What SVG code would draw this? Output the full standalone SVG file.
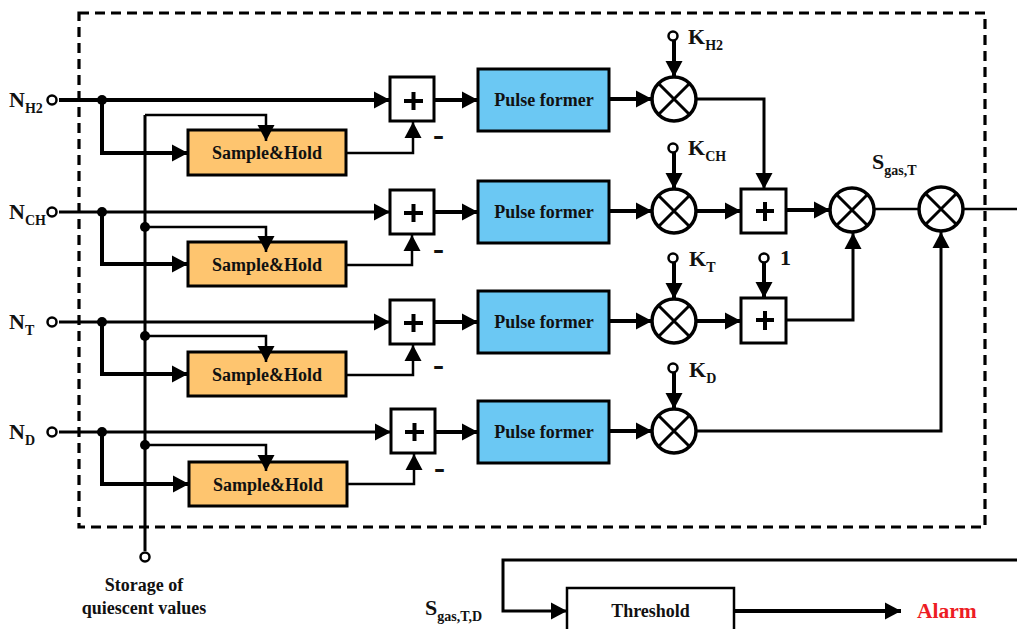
<svg xmlns="http://www.w3.org/2000/svg" width="1017" height="629" viewBox="0 0 1017 629">
<style>
text{font-family:"Liberation Serif","Times New Roman",serif;font-weight:700;fill:#111}
.lb{font-size:22px}
.sb{font-size:14px}
.bx{font-size:18px;text-anchor:middle}
.mn{font-size:33px}
.sum{fill:#fff;stroke:#000;stroke-width:3}
.sh{fill:#fec56f;stroke:#000;stroke-width:3}
.pf{fill:#6bc8f3;stroke:#000;stroke-width:3}
.mul{fill:#fff;stroke:#000;stroke-width:3.5}
.x{stroke:#000;stroke-width:3;fill:none}
.t{fill:none;stroke:#000;stroke-width:4}
.m{fill:none;stroke:#000;stroke-width:3}
.n{fill:none;stroke:#000;stroke-width:2.5}
.o{fill:#fff;stroke:#000;stroke-width:2.5}
.plus{stroke:#000;stroke-width:4;fill:none}
.ah{fill:#000;stroke:none}
</style>
<defs>
<marker id="arr" markerUnits="userSpaceOnUse" markerWidth="18" markerHeight="18" refX="16" refY="9" orient="auto"><path class="ah" d="M0,0.5L16,9L0,17.5Z"/></marker>
<g id="crs"><path class="x" d="M-16,-16L16,16M-16,16L16,-16"/></g>
</defs>
<rect x="79" y="13" width="906" height="514" fill="none" stroke="#000" stroke-width="3.2" stroke-dasharray="10 6"/>
<g id="sum1"><rect class="sum" x="390" y="77" width="44" height="44"/><path class="plus" d="M404,101H423M413.5,92V110"/></g>
<g id="sum2"><rect class="sum" x="390" y="190" width="44" height="44"/><path class="plus" d="M404,213H423M413.5,204V222"/></g>
<g id="sum3"><rect class="sum" x="390" y="300" width="44" height="44"/><path class="plus" d="M404,323H423M413.5,314V332"/></g>
<g id="sum4"><rect class="sum" x="391" y="409" width="44" height="44"/><path class="plus" d="M405,432H424M414.5,423V441"/></g>
<g id="sh1"><rect class="sh" x="188" y="130" width="158" height="45"/><text class="bx" x="267" y="159">Sample&amp;Hold</text></g>
<g id="sh2"><rect class="sh" x="188" y="242" width="158" height="44"/><text class="bx" x="267" y="271">Sample&amp;Hold</text></g>
<g id="sh3"><rect class="sh" x="188" y="352" width="158" height="44"/><text class="bx" x="267" y="381">Sample&amp;Hold</text></g>
<g id="sh4"><rect class="sh" x="189" y="462" width="158" height="44"/><text class="bx" x="268" y="491">Sample&amp;Hold</text></g>
<g id="pf1"><rect class="pf" x="478" y="69" width="131" height="62"/><text class="bx" x="544" y="106">Pulse former</text></g>
<g id="pf2"><rect class="pf" x="478" y="181" width="131" height="62"/><text class="bx" x="544" y="218">Pulse former</text></g>
<g id="pf3"><rect class="pf" x="478" y="291" width="131" height="62"/><text class="bx" x="544" y="328">Pulse former</text></g>
<g id="pf4"><rect class="pf" x="478" y="401" width="131" height="62"/><text class="bx" x="544" y="438">Pulse former</text></g>
<g id="mul1"><circle class="mul" cx="674" cy="99" r="22"/><use href="#crs" x="674" y="99"/></g>
<g id="mul2"><circle class="mul" cx="674" cy="211" r="22"/><use href="#crs" x="674" y="211"/></g>
<g id="mul3"><circle class="mul" cx="674" cy="321" r="22"/><use href="#crs" x="674" y="321"/></g>
<g id="mul4"><circle class="mul" cx="674" cy="431" r="22"/><use href="#crs" x="674" y="431"/></g>
<g id="mul5"><circle class="mul" cx="852" cy="210" r="22"/><use href="#crs" x="852" y="210"/></g>
<g id="mul6"><circle class="mul" cx="941" cy="209" r="22"/><use href="#crs" x="941" y="209"/></g>
<g id="sum5"><rect class="sum" x="741" y="189" width="45" height="44"/><path class="plus" d="M756,211H774M765,202V221"/></g>
<g id="sum6"><rect class="sum" x="741" y="298" width="45" height="45"/><path class="plus" d="M756,320H774M765,311V330"/></g>
<g id="threshold"><rect x="567" y="588" width="167" height="50" fill="#fff" stroke="#000" stroke-width="2.5"/><text class="bx" x="650.500" y="617">Threshold</text></g>
<g id="connectors">
<path class="t" d="M59,100H390" marker-end="url(#arr)"/>
<path class="m" d="M59,212H390" marker-end="url(#arr)"/>
<path class="m" d="M59,322H390" marker-end="url(#arr)"/>
<path class="m" d="M59,432H391" marker-end="url(#arr)"/>
<path class="t" d="M102,100V153H188" marker-end="url(#arr)"/>
<path class="t" d="M102,212V264H188" marker-end="url(#arr)"/>
<path class="t" d="M102,322V374H188" marker-end="url(#arr)"/>
<path class="t" d="M102,432V484H189" marker-end="url(#arr)"/>
<path class="m" d="M145,115V551"/>
<path class="n" d="M145,115H266V141" marker-end="url(#arr)"/>
<path class="n" d="M145,227H266V252" marker-end="url(#arr)"/>
<path class="n" d="M145,336H266V362" marker-end="url(#arr)"/>
<path class="n" d="M145,445H266V471" marker-end="url(#arr)"/>
<path class="n" d="M346,153H413V122" marker-end="url(#arr)"/>
<path class="n" d="M346,265H412V235" marker-end="url(#arr)"/>
<path class="n" d="M346,375H413V345" marker-end="url(#arr)"/>
<path class="n" d="M347,484H414V454" marker-end="url(#arr)"/>
<path class="t" d="M434,100H478" marker-end="url(#arr)"/>
<path class="t" d="M434,212H478" marker-end="url(#arr)"/>
<path class="t" d="M434,322H478" marker-end="url(#arr)"/>
<path class="t" d="M435,432H478" marker-end="url(#arr)"/>
<path class="t" d="M609,99H652" marker-end="url(#arr)"/>
<path class="t" d="M609,211H652" marker-end="url(#arr)"/>
<path class="t" d="M609,321H652" marker-end="url(#arr)"/>
<path class="t" d="M609,431H652" marker-end="url(#arr)"/>
<path class="t" d="M674,40V77" marker-end="url(#arr)"/>
<path class="t" d="M674,152V189" marker-end="url(#arr)"/>
<path class="t" d="M674,262V299" marker-end="url(#arr)"/>
<path class="t" d="M674,372V409" marker-end="url(#arr)"/>
<path class="m" d="M696,99H764V189" marker-end="url(#arr)"/>
<path class="t" d="M696,211H741" marker-end="url(#arr)"/>
<path class="t" d="M696,321H741" marker-end="url(#arr)"/>
<path class="t" d="M764,262V298" marker-end="url(#arr)"/>
<path class="t" d="M786,210H830" marker-end="url(#arr)"/>
<path class="m" d="M786,320H853V233" marker-end="url(#arr)"/>
<path class="n" d="M874,209H919"/>
<path class="m" d="M696,431H941V232" marker-end="url(#arr)"/>
<path class="n" d="M963,209H1017"/>
<path class="m" d="M1017,560H503V611H567" marker-end="url(#arr)"/>
<path class="t" d="M734,611H901" marker-end="url(#arr)"/>
</g>
<g id="dots" fill="#000">
<circle cx="102" cy="100" r="5"/><circle cx="102" cy="212" r="5"/><circle cx="102" cy="322" r="5"/><circle cx="102" cy="432" r="5"/>
<circle cx="145" cy="227" r="5"/><circle cx="145" cy="336" r="5"/><circle cx="145" cy="445" r="5"/>
</g>
<g id="terminals">
<circle class="o" cx="52" cy="100" r="4.5"/><circle class="o" cx="52" cy="212" r="4.5"/><circle class="o" cx="52" cy="322" r="4.5"/><circle class="o" cx="52" cy="432" r="4.5"/>
<circle class="o" cx="145" cy="557" r="4.5"/>
<circle class="o" cx="673" cy="36" r="4.500"/><circle class="o" cx="673" cy="148" r="4.5"/><circle class="o" cx="673" cy="258" r="4.5"/><circle class="o" cx="673" cy="368" r="4.5"/><circle class="o" cx="764" cy="258" r="4.5"/>
</g>
<g id="labels">
<text class="lb" x="9" y="107">N<tspan class="sb" dy="6">H2</tspan></text>
<text class="lb" x="9" y="219">N<tspan class="sb" dy="6">CH</tspan></text>
<text class="lb" x="9" y="329">N<tspan class="sb" dy="6">T</tspan></text>
<text class="lb" x="9" y="439">N<tspan class="sb" dy="6">D</tspan></text>
<text class="lb" x="688" y="44">K<tspan class="sb" dy="6">H2</tspan></text>
<text class="lb" x="688" y="155">K<tspan class="sb" dy="6">CH</tspan></text>
<text class="lb" x="689" y="266">K<tspan class="sb" dy="6">T</tspan></text>
<text class="lb" x="689" y="377">K<tspan class="sb" dy="6">D</tspan></text>
<text class="lb" x="780" y="265">1</text>
<text class="lb" x="872" y="169">S<tspan class="sb" dy="6">gas,T</tspan></text>
<text class="lb" x="425" y="615">S<tspan class="sb" dy="6">gas,T,D</tspan></text>
<text class="mn" x="433" y="146">-</text><text class="mn" x="433" y="260">-</text><text class="mn" x="433" y="376">-</text><text class="mn" x="434" y="479">-</text>
<text class="bx" x="144" y="591">Storage of</text>
<text class="bx" x="144" y="614">quiescent values</text>
<text x="917" y="618" style="font-size:21.5px;fill:#ed1c24">Alarm</text>
</g>
</svg>
